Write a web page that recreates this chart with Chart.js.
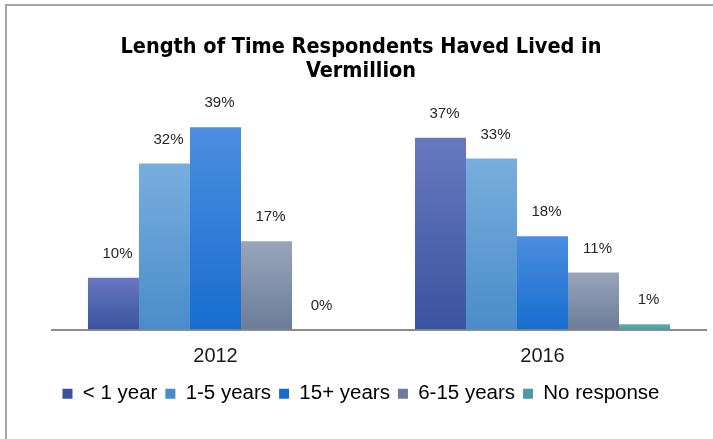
<!DOCTYPE html>
<html lang="en">
    <head>
        <meta charset="UTF-8" />
        <title>Length of Time Respondents Haved Lived in Vermillion</title>
        <script src="https://cdn.jsdelivr.net/npm/chart.js"></script>
        <style>
            body { margin: 0; background: #fff; }
            #frame {
                position: absolute; left: 5px; top: 4px; right: 0; bottom: 0;
                border-top: 2px solid #a6a6a6; border-left: 2px solid #a6a6a6;
            }
            #wrap { position: absolute; left: 0; top: 0; width: 713px; height: 439px; }
        </style>
    </head>
    <body>
        <div id="frame"></div>
        <div id="wrap"><canvas id="chart"></canvas></div>
        <script>
            const years = ["2012", "2016"];
            const lessThan1 = [10, 37];
            const oneToFive = [32, 33];
            const fifteenPlus = [39, 18];
            const sixToFifteen = [17, 11];
            const noResponse = [0, 1];

            // top and bottom colours of each bar's gradient
            const shades = [
                ["#6778bf", "#3a53a0"],
                ["#78aedd", "#4a8cca"],
                ["#4c8ee0", "#176dcf"],
                ["#9aa5bb", "#6b7c98"],
                ["#5eadb8", "#4a9ba6"],
            ];

            function gradient(i) {
                return (ctx) => {
                    const chart = ctx.chart;
                    if (ctx.type !== "data" || !chart.chartArea) return shades[i][1];
                    const y = chart.scales.y;
                    const top = y.getPixelForValue(ctx.raw);
                    const base = y.getPixelForValue(0);
                    if (base - top < 1) return shades[i][1];
                    const g = chart.ctx.createLinearGradient(0, top, 0, base);
                    g.addColorStop(0, shades[i][0]);
                    g.addColorStop(1, shades[i][1]);
                    return g;
                };
            }

            const valueLabels = {
                id: "valueLabels",
                afterDatasetsDraw(chart) {
                    const c = chart.ctx;
                    c.save();
                    c.font = "15px 'Liberation Sans', Arial, sans-serif";
                    c.fillStyle = "#262626";
                    c.textAlign = "center";
                    c.textBaseline = "middle";
                    chart.data.datasets.forEach((ds, i) => {
                        chart.getDatasetMeta(i).data.forEach((bar, j) => {
                            c.fillText(ds.data[j] + "%", bar.x + 4, bar.y - 24);
                        });
                    });
                    c.restore();
                },
            };

            const names = ["< 1 year", "1-5 years", "15+ years", "6-15 years", "No response"];
            const series = [lessThan1, oneToFive, fifteenPlus, sixToFifteen, noResponse];

            new Chart(document.getElementById("chart"), {
                type: "bar",
                data: {
                    labels: years,
                    datasets: series.map((d, i) => ({
                        label: names[i],
                        data: d,
                        backgroundColor: gradient(i),
                        borderWidth: 0,
                        categoryPercentage: 0.78,
                        barPercentage: 1,
                    })),
                },
                options: {
                    responsive: true,
                    maintainAspectRatio: false,
                    animation: false,
                    layout: { padding: { top: 35, left: 16, right: 7, bottom: 25 } },
                    plugins: {
                        title: {
                            display: true,
                            text: ["Length of Time Respondents Haved Lived in", "Vermillion"],
                            color: "#000",
                            font: { family: "'Liberation Sans Narrow', 'DejaVu Sans Condensed', sans-serif", size: 21.5, weight: "bold", lineHeight: 1.12 },
                            padding: { top: 0, bottom: 13 },
                        },
                        legend: {
                            position: "bottom",
                            labels: {
                                boxWidth: 10,
                                boxHeight: 10,
                                padding: 8,
                                color: "#1a1a1a",
                                font: { family: "'Liberation Sans', Arial, sans-serif", size: 20.5 },
                                generateLabels(chart) {
                                    return chart.data.datasets.map((ds, i) => ({
                                        text: ds.label,
                                        fillStyle: shades[i][1],
                                        strokeStyle: shades[i][1],
                                        lineWidth: 0,
                                        datasetIndex: i,
                                    }));
                                },
                            },
                        },
                        tooltip: { enabled: false },
                    },
                    scales: {
                        x: {
                            grid: { display: false },
                            border: { color: "#8c8c8c", width: 2 },
                            ticks: { color: "#1a1a1a", padding: 7, font: { family: "'Liberation Sans', Arial, sans-serif", size: 20 } },
                        },
                        y: {
                            min: 0,
                            max: 45,
                            grid: { display: false },
                            border: { display: false },
                            ticks: { display: false },
                            afterFit(scale) { scale.width = 36; },
                        },
                    },
                },
                plugins: [valueLabels],
            });
        </script>
    </body>
</html>
